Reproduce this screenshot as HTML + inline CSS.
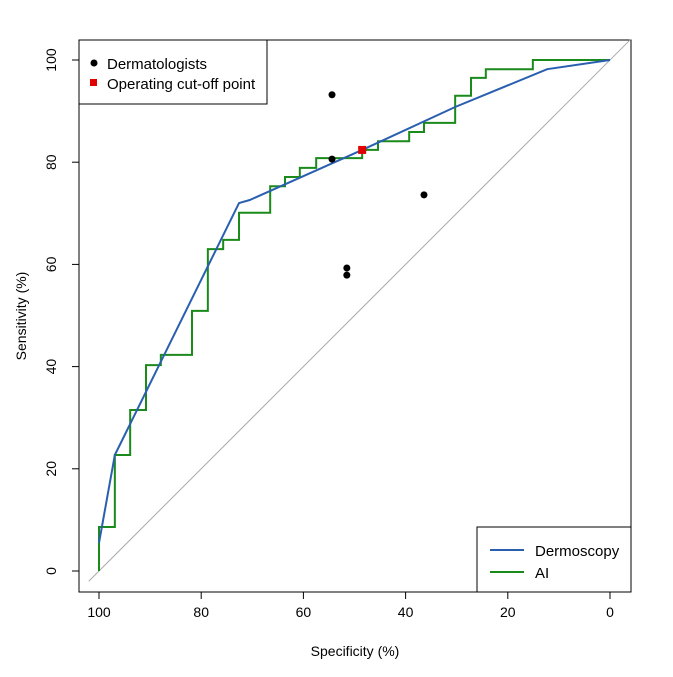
<!DOCTYPE html>
<html><head><meta charset="utf-8"><style>
html,body{margin:0;padding:0;background:#fff;}
svg text{font-family:"Liberation Sans",Arial,sans-serif;fill:#000;}
</style></head><body>
<svg id="chart" width="673" height="672" viewBox="0 0 673 672" xmlns="http://www.w3.org/2000/svg">
<rect x="0" y="0" width="673" height="672" fill="#fff"/>
<g id="axes"></g>
<g id="marks"></g>
<g id="legends"></g>
</svg>
<script>
const xTicks=[100,80,60,40,20,0];
const yTicks=[0,20,40,60,80,100];
const aiSpec=[100,100,96.9,96.9,93.9,93.9,90.8,90.8,87.9,87.9,81.8,81.8,78.7,78.7,75.7,75.7,72.6,72.6,66.5,66.5,63.6,63.6,60.7,60.7,57.5,57.5,48.5,48.5,45.4,45.4,39.3,39.3,36.4,36.4,30.3,30.3,27.2,27.2,24.3,24.3,15.1,15.1,0];
const aiSens=[0,8.6,8.6,22.7,22.7,31.5,31.5,40.3,40.3,42.3,42.3,50.9,50.9,63.0,63.0,64.8,64.8,70.1,70.1,75.3,75.3,77.1,77.1,78.9,78.9,80.8,80.8,82.4,82.4,84.1,84.1,85.9,85.9,87.7,87.7,93.0,93.0,96.5,96.5,98.2,98.2,100,100];
const dermSpec=[100,96.9,72.6,70.5,48.5,30.3,12.3,0];
const dermSens=[5.5,22.7,72,72.6,82.4,90.8,98.2,100];
const docSpec=[54.4,54.4,36.4,51.5,51.5];
const docSens=[93.2,80.6,73.6,59.3,57.9];
const cutSpec=[48.5];
const cutSens=[82.4];

const NS="http://www.w3.org/2000/svg";
const X=v=>610-(v)*5.11;
const Y=v=>571-(v)*5.11;
function mk(tag,attrs,parent){const e=document.createElementNS(NS,tag);for(const k in attrs)e.setAttribute(k,attrs[k]);parent.appendChild(e);return e;}
const axes=document.getElementById('axes'),marks=document.getElementById('marks'),leg=document.getElementById('legends');

let box=mk('rect',{x:79,y:40,width:552,height:552,fill:'none',stroke:'#000','stroke-width':1},axes);



xTicks.forEach(t=>{
  let l=mk('line',{x1:X(t),x2:X(t),y1:592,y2:599,stroke:'#000'},axes);
  
  
  let tx=mk('text',{x:X(t),y:617,'text-anchor':'middle','font-size':14},axes);tx.textContent=t;
  
  
});
yTicks.forEach(t=>{
  let l=mk('line',{x1:72,x2:79,y1:Y(t),y2:Y(t),stroke:'#000'},axes);
  
  
  let tx=mk('text',{x:56,y:Y(t),'text-anchor':'middle','font-size':14,transform:`rotate(-90 56 ${Y(t)})`},axes);tx.textContent=t;
  
  
});
let xt=mk('text',{x:355,y:656,'text-anchor':'middle','font-size':14},axes);xt.textContent='Specificity (%)';


let yt=mk('text',{x:26,y:316,'text-anchor':'middle','font-size':14,transform:'rotate(-90 26 316)'},axes);yt.textContent='Sensitivity (%)';



let diag=mk('line',{x1:X(102),y1:Y(-2),x2:X(-4),y2:Y(104),stroke:'#aaa','stroke-width':1},marks);



let ai=mk('polyline',{points:aiSpec.map((s,i)=>X(s)+','+Y(aiSens[i])).join(' '),fill:'none',stroke:'#1a8a1a','stroke-width':2},marks);


let dm=mk('polyline',{points:dermSpec.map((s,i)=>X(s)+','+Y(dermSens[i])).join(' '),fill:'none',stroke:'#2a5fb0','stroke-width':2},marks);



docSpec.forEach((s,i)=>{
  let c=mk('circle',{cx:X(s),cy:Y(docSens[i]),r:3.5,fill:'#000'},marks);
  
  
});
cutSpec.forEach((s,i)=>{
  let r=mk('rect',{x:X(s)-4,y:Y(cutSens[i])-4,width:8,height:8,fill:'#e00000'},marks);
  
  
});

let lb1=mk('rect',{x:79,y:40,width:188,height:64,fill:'#fff',stroke:'#000'},leg);


let ld=mk('circle',{cx:94,cy:63,r:3.5,fill:'#000'},leg);


let lt1=mk('text',{x:107,y:69,'font-size':15},leg);lt1.textContent='Dermatologists';


let lr=mk('rect',{x:90,y:79,width:7,height:7,fill:'#e00000'},leg);


let lt2=mk('text',{x:107,y:89,'font-size':15},leg);lt2.textContent='Operating cut-off point';



let lb2=mk('rect',{x:477,y:527,width:154,height:65,fill:'#fff',stroke:'#000'},leg);


let l1=mk('line',{x1:490,x2:524,y1:550,y2:550,stroke:'#2a5fb0','stroke-width':2},leg);


let lt3=mk('text',{x:535,y:556,'font-size':15},leg);lt3.textContent='Dermoscopy';


let l2=mk('line',{x1:490,x2:524,y1:572,y2:572,stroke:'#1a8a1a','stroke-width':2},leg);


let lt4=mk('text',{x:535,y:578,'font-size':15},leg);lt4.textContent='AI';


</script>
</body></html>
